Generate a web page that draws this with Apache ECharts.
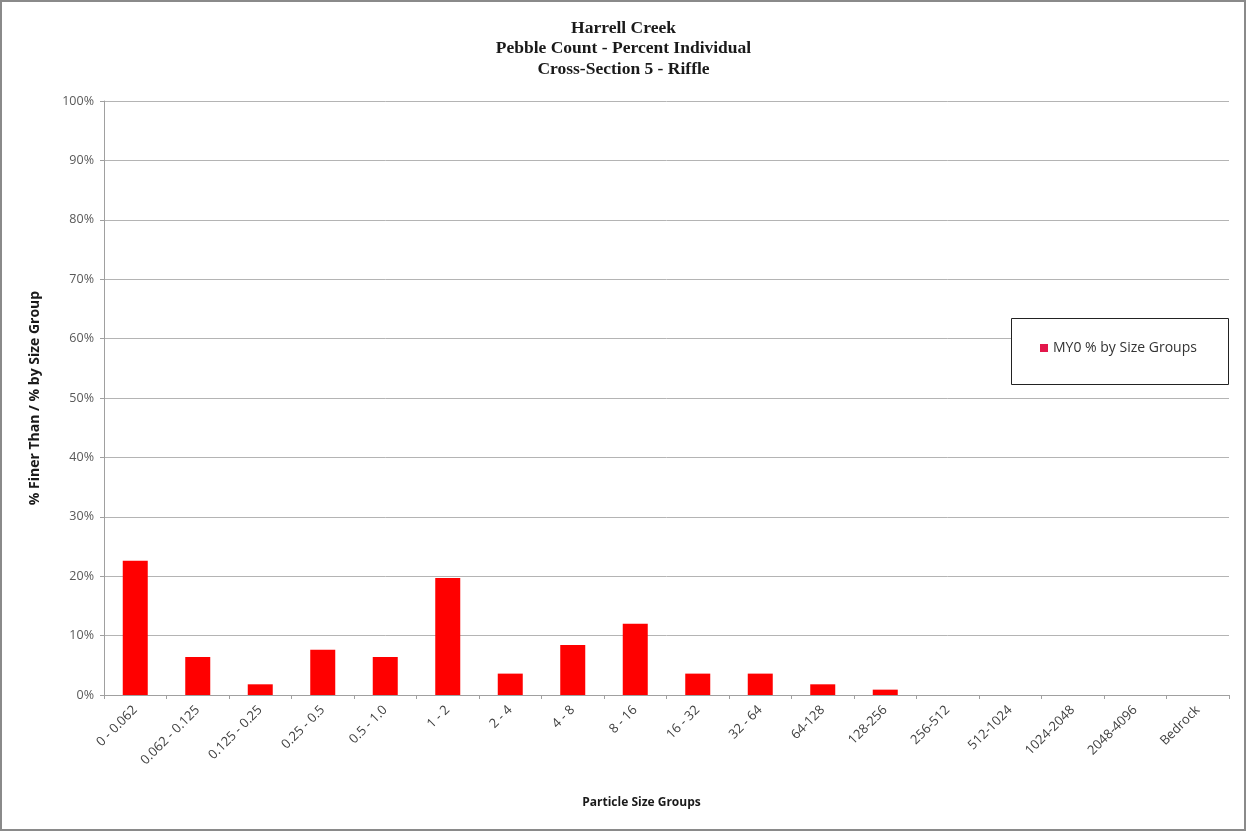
<!DOCTYPE html>
<html>
<head>
<meta charset="utf-8">
<script src="https://cdn.jsdelivr.net/npm/echarts@6/dist/echarts.min.js"></script>
<style>
  html, body { margin: 0; padding: 0; background: #fff; }
  #chart { width: 1247px; height: 832px; }
</style>
</head>
<body>
<div id="chart"></div>
<script>
// particle size groups (mm)
var sizeGroups = ['0 - 0.062', '0.062 - 0.125', '0.125 - 0.25', '0.25 - 0.5', '0.5 - 1.0',
  '1 - 2', '2 - 4', '4 - 8', '8 - 16', '16 - 32', '32 - 64', '64-128', '128-256',
  '256-512', '512-1024', '1024-2048', '2048-4096', 'Bedrock'];
// MY0 % by size groups
var my0Percent = [22.6, 6.4, 1.8, 7.6, 6.4, 19.7, 3.6, 8.4, 12.0, 3.6, 3.6, 1.8, 0.9,
  0, 0, 0, 0, 0];
var titleLines = ['Harrell Creek', 'Pebble Count - Percent Individual', 'Cross-Section 5 - Riffle'];

var myChart = echarts.init(document.getElementById('chart'));
myChart.setOption({
  animation: false,
  title: {
    text: titleLines.join('\n'),
    left: 'center',
    top: 13,
    textStyle: {
      fontFamily: 'Liberation Serif',
      fontWeight: 'bold',
      fontSize: 17.5,
      lineHeight: 20.5,
      color: '#1a1a1a'
    }
  },
  legend: {
    left: 1040,
    top: 341,
    padding: 0,
    icon: 'rect',
    itemWidth: 8,
    itemHeight: 8,
    itemGap: 5,
    textStyle: { fontFamily: 'Open Sans', fontSize: 14, color: '#333' },
    data: [{ name: 'MY0 % by Size Groups', itemStyle: { color: '#e3174b' } }]
  },
  grid: {
    left: 104,
    right: 18,
    top: 101,
    bottom: 137
  },
  xAxis: {
    type: 'category',
    data: sizeGroups,
    name: 'Particle Size Groups',
    nameLocation: 'middle',
    nameGap: 102,
    nameTextStyle: {
      fontFamily: 'Open Sans',
      fontWeight: 'bold',
      fontSize: 12,
      color: '#1a1a1a',
      padding: [0, 50, 0, 0]
    },
    axisLine: { lineStyle: { color: '#a0a0a0' } },
    axisTick: { show: true, length: 4, lineStyle: { color: '#a0a0a0' } },
    axisLabel: {
      rotate: 45,
      interval: 0,
      margin: 13,
      fontFamily: 'Open Sans',
      fontSize: 13,
      color: '#404040'
    }
  },
  yAxis: {
    type: 'value',
    min: 0,
    max: 100,
    interval: 10,
    name: '% Finer Than / % by Size Group',
    nameLocation: 'middle',
    nameGap: 62,
    nameTextStyle: {
      fontFamily: 'Open Sans',
      fontWeight: 'bold',
      fontSize: 14,
      color: '#1a1a1a'
    },
    axisLine: { show: true, lineStyle: { color: '#a0a0a0' } },
    axisTick: { show: true, length: 4, lineStyle: { color: '#a0a0a0' } },
    axisLabel: {
      formatter: '{value}%',
      margin: 10,
      fontFamily: 'Open Sans',
      fontSize: 12.5,
      color: '#595959'
    },
    splitLine: { lineStyle: { color: '#b4b4b4' } }
  },
  series: [
    {
      name: 'MY0 % by Size Groups',
      type: 'bar',
      data: my0Percent,
      barWidth: '40%',
      itemStyle: { color: '#ff0000' }
    }
  ],
  graphic: [
    {
      type: 'rect',
      shape: { x: 1, y: 1, width: 1244, height: 829 },
      style: { fill: 'none', stroke: '#8a8a8a', lineWidth: 2 },
      silent: true
    },
    {
      type: 'rect',
      shape: { x: 1011.5, y: 318.5, width: 217, height: 66 },
      style: { fill: '#fff', stroke: '#222', lineWidth: 1 },
      z: 4,
      silent: true
    }
  ]
});
</script>
</body>
</html>
